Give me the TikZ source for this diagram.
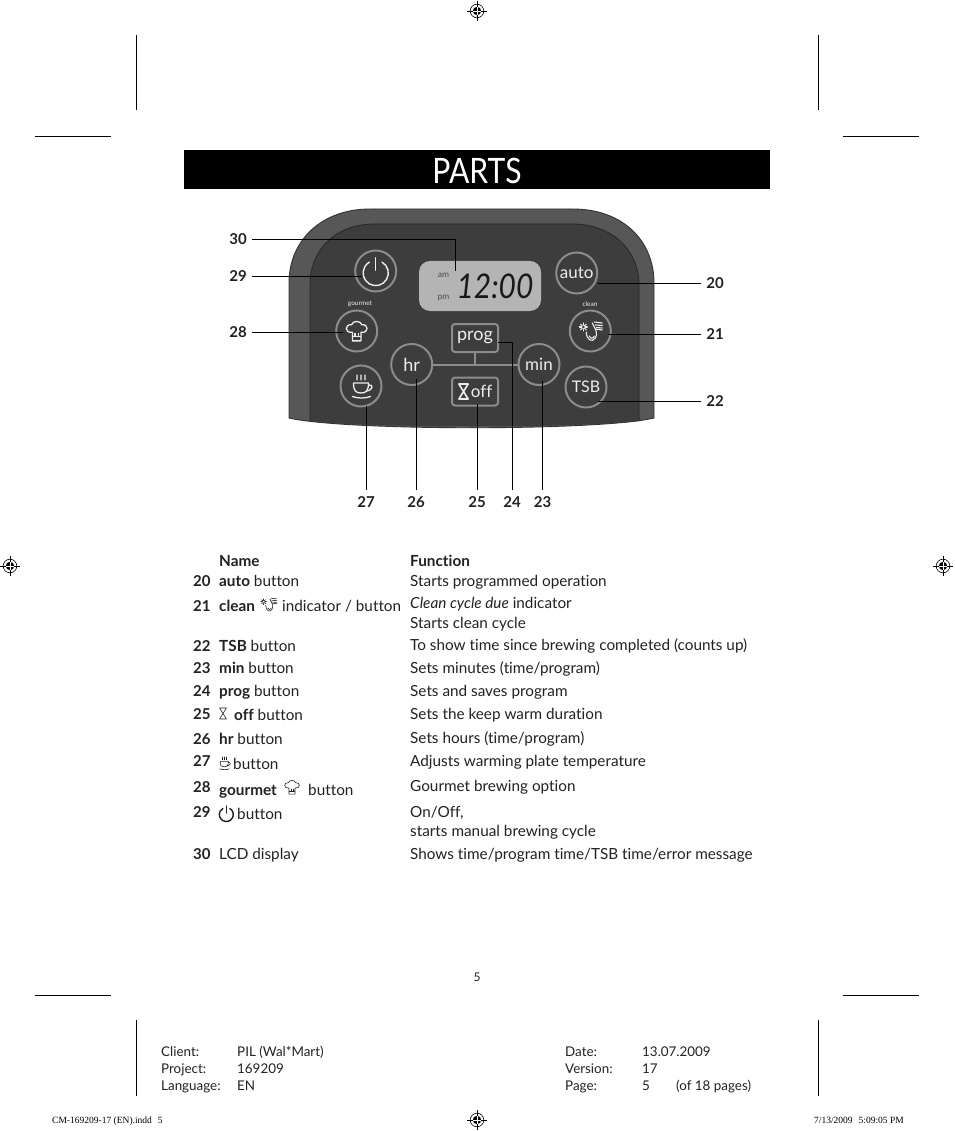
\documentclass[tikz,border=0pt]{standalone}
\usepackage{fontspec}
\setmainfont{Lato}[Ligatures=NoCommon]
\newfontfamily\slugfont{Liberation Serif}
\definecolor{ink}{HTML}{222222}
\definecolor{band}{HTML}{575757}
\definecolor{face}{HTML}{3D3D3D}
\definecolor{rimgray}{HTML}{8C8C8C}
\definecolor{lcdgray}{HTML}{B4B4B4}
\definecolor{icw}{HTML}{EDEDED}
\tikzset{
 body/.style={anchor=base west,inner sep=0pt,text=ink,font=\fontsize{15.3}{18}\selectfont},
 rownum/.style={body,font=\fontsize{15}{18}\selectfont\bfseries},
 foot/.style={anchor=base west,inner sep=0pt,text=ink,font=\fontsize{13.4}{16}\selectfont},
 slug/.style={inner sep=0pt,font=\fontsize{9.5}{11}\slugfont},
 callout/.style={inner sep=0pt,minimum width=28pt,minimum height=24pt,text=ink,font=\fontsize{15}{18}\selectfont\bfseries},
 leader/.style={draw=black,line width=0.9pt},
 crop/.style={draw=black,line width=1pt},
 roundbtn/.style={circle,draw=rimgray,line width=2pt,fill=face,minimum size=41pt,inner sep=0pt,text=icw,font=\fontsize{17}{20}\selectfont},
 rectbtn/.style={rectangle,rounded corners=3pt,draw=rimgray,line width=2pt,fill=face,minimum width=46pt,minimum height=28pt,inner sep=0pt,text=icw,font=\fontsize{18}{20}\selectfont},
 tiny/.style={inner sep=0pt,font=\fontsize{6.5}{7}\selectfont},
}
% registration mark
\newcommand\regmark[2]{\begin{scope}[shift={(#1,#2)}]
 \fill[black] (0,0) circle (4.2);
 \draw[black,line width=.6pt] (0,0) circle (6.8);
 \draw[black,line width=.6pt] (-10,0) -- (10,0) (0,-10) -- (0,10);
 \draw[white,line width=.5pt] (-4,0) -- (4,0) (0,-4) -- (0,4);
\end{scope}}
% icons: x, y, scale, line width, colour
\newcommand\powerico[5]{\begin{scope}[shift={(#1,#2)},scale=#3,line width=#4,#5,line cap=round]
 \draw (7,-12.1) arc (-60:240:14);
 \draw (0,-17) -- (0,-3);
\end{scope}}
\newcommand\chefico[5]{\begin{scope}[shift={(#1,#2)},scale=#3,line width=#4,#5,line join=round]
 \draw (-5,1) .. controls (-15,2) and (-14,-9) .. (-6,-8) .. controls (-5,-13) and (5,-13) .. (6,-8) .. controls (14,-9) and (15,2) .. (5,1) -- (5,11) -- (-5,11) -- cycle;
 \draw (-5,6) -- (5,6) (-2,2) -- (-2,6) (2,2) -- (2,6);
\end{scope}}
\newcommand\cupico[5]{\begin{scope}[shift={(#1,#2)},scale=#3,line width=#4,#5,line cap=round]
 \draw (-8,-2) -- (7,-2) .. controls (7,6) and (4.5,8) .. (-.5,8) .. controls (-5.5,8) and (-8,6) .. (-8,-2);
 \draw (7,0) .. controls (12,-1) and (12,5) .. (5,6);
 \draw (-9,11.5) .. controls (-4,13.5) and (4,13.5) .. (9,11.5);
 \foreach \q in {-4.5,-.5,3.5}{\draw (\q,-5) .. controls (\q-1.5,-7) and (\q+1.5,-8) .. (\q,-10);}
\end{scope}}
\newcommand\cleanico[5]{\begin{scope}[shift={(#1,#2)},scale=#3,line width=#4,#5,line cap=round]
 \draw (-4,1) .. controls (-4,9) and (2,12) .. (5,7) .. controls (7,4) and (6,0) .. (5,-2);
 \draw (-1,5) .. controls (0,8) and (3,8) .. (4,5);
 \draw (2,-8) -- (5,-2) -- (12,-1);
 \draw (4,-9) -- (12,-8) (5,-6) -- (12,-5.5) (6,-3.5) -- (12,-3);
 \foreach \a in {0,45,...,315}{\draw ([shift={(-7,-4)}]\a:1.6) -- ([shift={(-7,-4)}]\a:4);}
\end{scope}}
\newcommand\glassico[5]{\begin{scope}[shift={(#1,#2)},scale=#3,line width=#4,#5,line join=round]
 \draw (-4,-6.5) -- (4,-6.5) -- (-4,6.5) -- (4,6.5) -- cycle;
\end{scope}}
\begin{document}
\begin{tikzpicture}[x=1pt,y=-1pt]
\useasboundingbox (0,0) rectangle (954,1131);
\fill[white] (0,0) rectangle (954,1131);
% crop marks
\draw[crop] (136.5,35) -- (136.5,110.5) (818.5,35) -- (818.5,110.5) (35,136.5) -- (110.5,136.5) (843,136.5) -- (918.5,136.5);
\draw[crop] (35,995.5) -- (110.5,995.5) (843,995.5) -- (918.5,995.5) (136.5,1020) -- (136.5,1096) (818.5,1020) -- (818.5,1096);
\regmark{477}{11}\regmark{10}{566}\regmark{943}{566}\regmark{477}{1120}
% title
\node[fill=black,minimum width=586pt,minimum height=38.5pt,inner sep=0pt] (titlebar) at (477,169.5) {};
\node[inner sep=0pt,text=white,xscale=.86,font=\fontsize{35}{38}\selectfont] (title) at (477,170.5) {PARTS};
% panel
\fill[band] (289,418) -- (289,283) .. controls (289,240) and (322,209) .. (370,209) -- (573,209) .. controls (622,209) and (654,240) .. (654,283) -- (654,418) .. controls (600,431) and (345,431) .. (289,418) -- cycle;
\draw[black!80,line width=.9pt] (289,418) -- (289,283) .. controls (289,240) and (322,209) .. (370,209) -- (573,209) .. controls (622,209) and (654,240) .. (654,283) -- (654,418) .. controls (600,431) and (345,431) .. (289,418) -- cycle;
\fill[face] (310,421) -- (310,285) .. controls (310,250) and (335,224) .. (375,224) -- (572,224) .. controls (612,224) and (639,250) .. (639,285) -- (639,421) .. controls (590,428) and (360,428) .. (310,421) -- cycle;
\draw[black!85,line width=.8pt] (310,421) -- (310,285) .. controls (310,250) and (335,224) .. (375,224) -- (572,224) .. controls (612,224) and (639,250) .. (639,285) -- (639,421);
% lcd
\node[rectangle,rounded corners=11pt,fill=lcdgray,minimum width=122pt,minimum height=50pt,inner sep=0pt] (lcd) at (480,286) {};
\node[inner sep=0pt,text=black!70,font=\fontsize{8.5}{9}\selectfont] (am) at (443.5,275) {am};
\node[inner sep=0pt,text=black!70,font=\fontsize{8.5}{9}\selectfont] (pm) at (443.5,298) {pm};
\node[inner sep=0pt,text=black!90,xscale=.88,font=\fontsize{34}{36}\selectfont\itshape] (clock) at (495,286) {12:00};
% joining lines
\coordinate (tee) at (475,364);
% buttons
\node[roundbtn] (power) at (375.7,271) {};
\powerico{375.7}{273}{.9}{1.4pt}{icw}
\node[roundbtn] (auto) at (576.7,273) {auto};
\node[roundbtn] (gour) at (356.7,331) {};
\chefico{356.7}{331.5}{.85}{1.3pt}{icw}
\node[roundbtn] (clean) at (590.3,331) {};
\cleanico{590.3}{331}{1}{1.1pt}{icw}
\node[roundbtn] (cup) at (361,386) {};
\cupico{361.5}{385}{1}{1.3pt}{icw}
\node[roundbtn,font=\fontsize{18}{20}\selectfont] (hr) at (411.7,364.5) {hr};
\node[roundbtn] (min) at (539,364.5) {min};
\node[roundbtn,font=\fontsize{16}{20}\selectfont] (tsb) at (586,387) {TSB};
\node[rectbtn] (prog) at (475,338) {\raisebox{-2pt}{prog}};
\node[rectbtn,font=\fontsize{17}{20}\selectfont] (off) at (475,391.5) {\hspace{13pt}off};
\glassico{463.5}{391.5}{1.15}{1.6pt}{icw}
\draw[rimgray,line width=2pt] (hr.east) -- (min.west) (prog.south) -- (tee);
\node[tiny,text=icw] (gourlab) at (360,304) {gourmet};
\node[tiny,text=icw] (cleanlab) at (590,304) {clean};
% callouts
\node[callout] (l30) at (238,239) {30};
\node[callout] (l29) at (238,276) {29};
\node[callout] (l28) at (238,332) {28};
\node[callout] (l20) at (715,283) {20};
\node[callout] (l21) at (715,334) {21};
\node[callout] (l22) at (715,401) {22};
\node[callout] (l27) at (366,502) {27};
\node[callout] (l26) at (416,502) {26};
\node[callout] (l25) at (477,502) {25};
\node[callout] (l24) at (512,502) {24};
\node[callout] (l23) at (542.5,502) {23};
\coordinate (e30) at (455,271);
\coordinate (e29) at (362,276);
\coordinate (e28) at (343,332);
\coordinate (e20) at (598,283);
\coordinate (e21) at (608,334);
\coordinate (e22) at (598,401);
\coordinate (e27) at (366,406);
\coordinate (e26) at (416,379);
\coordinate (e25) at (477,404);
\coordinate (e24) at (498,342);
\coordinate (e23) at (542.5,381);
\draw[leader] (l30.east) -| (e30);
\draw[leader] (l29.east) -- (e29);
\draw[leader] (l28.east) -- (e28);
\draw[leader] (l20.west) -- (e20);
\draw[leader] (l21.west) -- (e21);
\draw[leader] (l22.west) -- (e22);
\draw[leader] (l27.north) -- (e27);
\draw[leader] (l26.north) -- (e26);
\draw[leader] (l25.north) -- (e25);
\draw[leader] (l24.north) |- (e24);
\draw[leader] (l23.north) -- (e23);
% table heads
\node[body] (hname) at (219,566) {\textbf{Name}};
\node[body] (hfunc) at (410,566) {\textbf{Function}};
% rows
\node[rownum] (n20) at (193,586) {20};
\node[body] (a20) at (219,586) {\textbf{auto} button};
\node[body] (f20) at (410,586) {Starts programmed operation};
\node[rownum] (n21) at (193,611) {21};
\node[body] (a21) at (219,611) {\textbf{clean}};
\cleanico{268.5}{604.5}{.7}{.6pt}{ink}
\node[body] (b21) at (282,611) {indicator / button};
\node[body] (f21) at (410,608) {\textit{Clean cycle due} indicator};
\node[body] (g21) at (410,628) {Starts clean cycle};
\node[rownum] (n22) at (193,651) {22};
\node[body] (a22) at (219,651) {\textbf{TSB} button};
\node[body] (f22) at (410,650) {To show time since brewing completed (counts up)};
\node[rownum] (n23) at (193,673) {23};
\node[body] (a23) at (219,673) {\textbf{min} button};
\node[body] (f23) at (410,673) {Sets minutes (time/program)};
\node[rownum] (n24) at (193,696) {24};
\node[body] (a24) at (219,696) {\textbf{prog} button};
\node[body] (f24) at (410,696) {Sets and saves program};
\node[rownum] (n25) at (193,719) {25};
\glassico{223}{713.5}{.85}{.6pt}{ink}
\node[body] (a25) at (234,720) {\textbf{off} button};
\node[body] (f25) at (410,719) {Sets the keep warm duration};
\node[rownum] (n26) at (193,744) {26};
\node[body] (a26) at (219,744) {\textbf{hr} button};
\node[body] (f26) at (410,743) {Sets hours (time/program)};
\node[rownum] (n27) at (193,766) {27};
\cupico{224.5}{762.5}{.55}{.6pt}{ink}
\node[body] (a27) at (233,769) {button};
\node[body] (f27) at (410,766) {Adjusts warming plate temperature};
\node[rownum] (n28) at (193,792) {28};
\node[body] (a28) at (219,795) {\textbf{gourmet}};
\chefico{292}{787.5}{.6}{.6pt}{ink}
\node[body] (b28) at (308,795) {button};
\node[body] (f28) at (410,791) {Gourmet brewing option};
\node[rownum] (n29) at (193,817) {29};
\powerico{226.3}{814.5}{.5}{1.4pt}{ink}
\node[body] (a29) at (237,819) {button};
\node[body] (f29) at (410,817) {On/Off,};
\node[body] (g29) at (410,836) {starts manual brewing cycle};
\node[rownum] (n30) at (193,859) {30};
\node[body] (a30) at (219,859) {LCD display};
\node[body] (f30) at (410,859) {Shows time/program time/TSB time/error message};
% page number
\node[inner sep=0pt,text=ink,font=\fontsize{12}{14}\selectfont] (pageno) at (477,977) {5};
% footer
\node[foot] (c1) at (161,1056) {Client:};
\node[foot] (c2) at (237,1056) {PIL (Wal*Mart)};
\node[foot] (c3) at (161,1073) {Project:};
\node[foot] (c4) at (237,1073) {169209};
\node[foot] (c5) at (161,1090) {Language:};
\node[foot] (c6) at (237,1090) {EN};
\node[foot] (d1) at (565,1056) {Date:};
\node[foot] (d2) at (642,1056) {13.07.2009};
\node[foot] (d3) at (565,1073) {Version:};
\node[foot] (d4) at (642,1073) {17};
\node[foot] (d5) at (565,1090) {Page:};
\node[foot] (d6) at (642,1090) {5};
\node[foot] (d7) at (676,1090) {(of 18 pages)};
\node[slug,anchor=base west] (s1) at (52,1123) {CM-169209-17 (EN).indd\hspace{6pt}5};
\node[slug,anchor=base east] (s2) at (904,1123) {7/13/2009\hspace{6pt}5:09:05 PM};
\end{tikzpicture}
\end{document}
